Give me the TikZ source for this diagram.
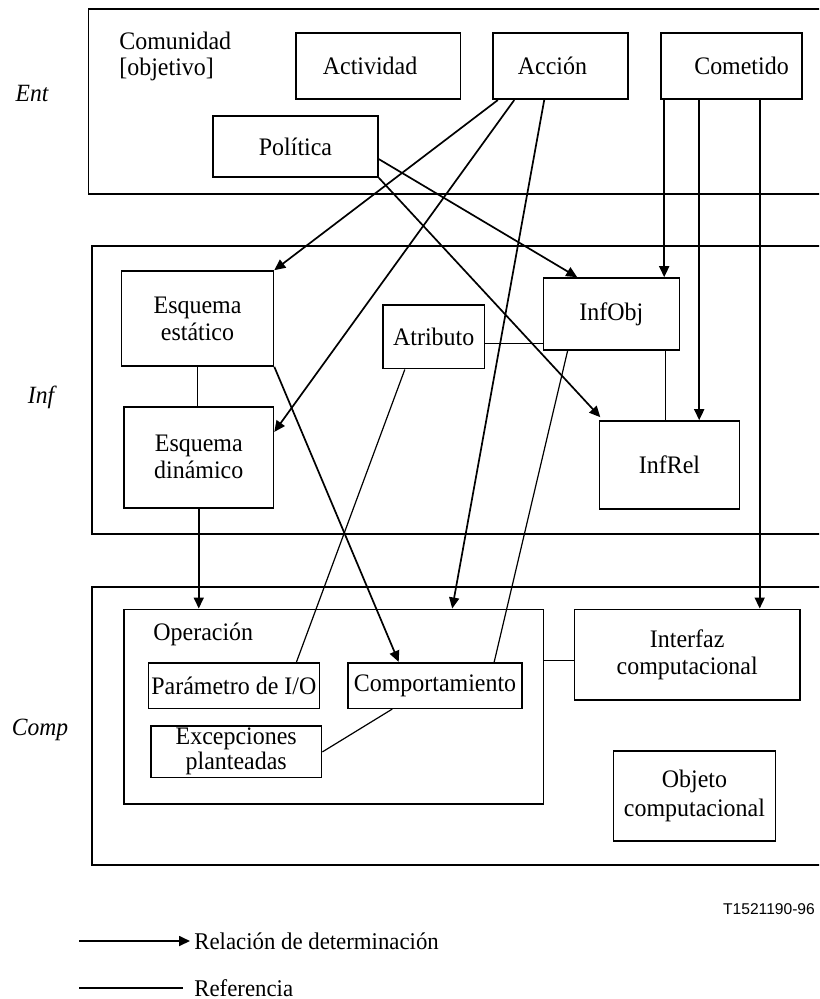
\documentclass[tikz,border=0pt]{standalone}
\usepackage{fontspec}
\setmainfont{Liberation Serif}[FakeStretch=0.95]
\newfontfamily\arialfont{Liberation Sans}
\usetikzlibrary{arrows.meta,calc}
\tikzset{
  box/.style={draw,line width=0.8pt,inner sep=0pt,align=center,font=\fontsize{12.6}{13.5}\selectfont},
  sz/.style 2 args={minimum width={(#1)*0.5pt},minimum height={(#2)*0.5pt}},
  frame/.style={draw,line width=0.9pt},
  det/.style={line width=0.85pt,-{Triangle[length=5.5pt,width=5pt]}},
  refl/.style={line width=0.6pt},
  lay/.style={inner sep=0pt,font=\fontsize{12.4}{14}\selectfont\itshape},
  plain/.style={inner sep=0pt,font=\fontsize{12.6}{13}\selectfont}}
\begin{document}
\begin{tikzpicture}[x=0.5pt,y=-0.5pt]
\useasboundingbox (0,0) rectangle (819,999);
\clip (0,0) rectangle (819,999);
% layer frames
\draw[frame] (88.5,9.3) rectangle (840,194.3);
\draw[frame] (92,246) rectangle (840,534);
\draw[frame] (92,587) rectangle (840,865);
% layer labels
\node[lay] (lent) at (32,94) {Ent};
\node[lay] (linf) at (41,397) {Inf};
\node[lay] (lcomp) at (40,730) {Comp};
% Ent
\node[plain,align=left,anchor=west] (comu) at (119,56) {Comunidad\\{}[objetivo]};
\node[box,sz={164.7}{66}] (act) at (378.05,66.3) {Actividad\hspace*{8pt}};
\node[box,sz={135}{66}] (acc) at (560.5,66.3) {Acción\hspace*{8pt}};
\node[box,sz={141}{66}] (cmt) at (731.5,66.3) {\hspace*{10pt}Cometido};
\node[box,sz={165}{61}] (pol) at (295.5,146.5) {Política};
% Inf
\node[box,sz={152}{95}] (eest) at (197.5,318.5) {Esquema\\estático};
\node[box,sz={149.5}{101}] (edin) at (198.75,457.2) {Esquema\\dinámico};
\node[box,sz={101.4}{63.7}] (atr) at (433.7,336.85) {Atributo};
\node[box,sz={135.9}{72}] (iobj) at (611.35,314) {InfObj};
\node[box,sz={139.7}{88}] (irel) at (669.45,465) {InfRel};
% Comp
\node[draw,line width=0.8pt,inner sep=0pt,sz={419.4}{194.7}] (op) at (333.7,706.65) {};
\node[plain,anchor=west] (oplab) at (153,634) {Operación};
\node[box,sz={170.9}{45.6}] (par) at (233.85,685.5) {Parámetro de I/O};
\node[box,sz={174}{45.6}] (cpt) at (435,685.5) {Comportamiento};
\node[box,sz={170.8}{51.3},font=\fontsize{12.6}{11.2}\selectfont] (exc) at (236.2,751.65) {Excepciones\\planteadas};
\node[box,sz={225.1}{90.7}] (intf) at (687.15,654.65) {Interfaz\\computacional};
\node[box,sz={162.3}{90},font=\fontsize{12.6}{14.5}\selectfont] (objc) at (694.45,796) {Objeto\\computacional};
% determination arrows
\draw[det] ($(acc.south west)+(5.6,0)$) -- (eest.north east);
\draw[det] ($(acc.south west)+(22,0)$) -- ($(edin.north east)+(0,26)$);
\draw[det] ($(acc.south west)+(52,0)$) -- ($(op.north west)+(329,0)$);
\draw[det] ($(pol.south east)+(0,-18.7)$) -- ($(iobj.north west)+(34.6,0)$);
\draw[det] (pol.south east) -- ($(irel.north west)+(1.5,-3)$);
\coordinate (c1) at ($(cmt.south west)+(4,0)$);
\coordinate (c2) at ($(cmt.south west)+(39,0)$);
\coordinate (c3) at ($(cmt.south west)+(99.5,0)$);
\draw[det] (c1) -- (c1 |- iobj.north);
\draw[det] (c2) -- (c2 |- irel.north);
\draw[det] (c3) -- (c3 |- intf.north);
\draw[det] (edin.south) -- (edin.south |- op.north);
\draw[det] (eest.south east) -- ($(cpt.north west)+(51.5,0)$);
% references
\draw[refl] (eest.south) -- (eest.south |- edin.north);
\coordinate (ra) at ($(atr.south east)+(0,-25.7)$);
\draw[refl] (ra) -- (ra -| iobj.west);
\coordinate (rb) at ($(iobj.south west)+(122.6,0)$);
\draw[refl] (rb) -- (rb |- irel.north);
\draw[refl] ($(atr.south west)+(22.6,0)$) -- ($(par.north east)+(-23.6,0)$);
\draw[refl] ($(iobj.south west)+(25,0)$) -- ($(cpt.north east)+(-28.6,0)$);
\coordinate (rc) at ($(op.north east)+(0,51.7)$);
\draw[refl] (rc) -- (rc -| intf.west);
\draw[refl] ($(cpt.south west)+(45,0)$) -- ($(exc.north east)+(0,26.7)$);
% figure number
\node[inner sep=0pt,font=\arialfont\fontsize{7.8}{9}\selectfont] (tnum) at (769,909) {T1521190-96};
% legend
\coordinate (la) at (79,941);
\coordinate (lb) at (190,941);
\draw[det] (la) -- (lb);
\node[plain,anchor=west,font=\fontsize{12}{13}\selectfont] (lt1) at (194,941) {Relación de determinación};
\coordinate (lc) at (79,988);
\coordinate (ld) at (183,988);
\draw[refl] (lc) -- (ld);
\node[plain,anchor=west,font=\fontsize{12}{13}\selectfont] (lt2) at (194,988) {Referencia};
\end{tikzpicture}
\end{document}
